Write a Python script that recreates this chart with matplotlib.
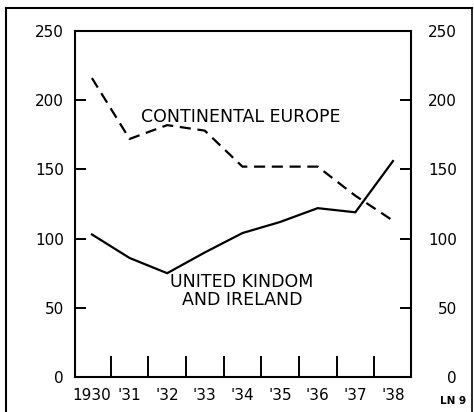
import matplotlib.pyplot as plt
from matplotlib.lines import Line2D

# values
years = [0, 1, 2, 3, 4, 5, 6, 7, 8]
year_labels = ["1930", "'31", "'32", "'33", "'34", "'35", "'36", "'37", "'38"]
continental_europe = [216, 172, 182, 178, 152, 152, 152, 131, 113]
uk_ireland = [103, 86, 75, 90, 104, 112, 122, 119, 156]
y_ticks = [0, 50, 100, 150, 200, 250]

plt.rcParams['font.family'] = ['DejaVu Sans']

fig = plt.figure(figsize=(4.74, 4.12), dpi=100)
ax = fig.add_axes([75/474, 35/412, 336/474, 346/412])

ax.plot(years, uk_ireland, color="black", lw=1.6, solid_joinstyle="miter")
ax.plot(years, continental_europe, color="black", lw=1.6, dashes=(5, 3))

ax.set_xlim(-0.45, 8.48)
ax.set_ylim(0, 250)

for s in ax.spines.values():
    s.set_linewidth(1.5)

# year labels under the years, tick marks between them
ax.set_xticks(years)
ax.set_xticklabels(year_labels, fontsize=11)
ax.set_xticks([y + 0.5 for y in years[:-1]], minor=True)
ax.tick_params(axis="x", which="major", length=0, pad=8)
ax.tick_params(axis="x", which="minor", direction="in", length=15, width=1.4)

ax.set_yticks(y_ticks)
ax.set_yticklabels([str(v) for v in y_ticks], fontsize=11)
ax.tick_params(axis="y", direction="in", length=8, width=1.4,
               left=True, right=True, labelleft=True, labelright=True, pad=8)
# right-hand numbers are right aligned
for tick in ax.yaxis.get_major_ticks():
    tick.label2.set_horizontalalignment("right")
    tick.label2.set_x(1 + 35/336)

ax.text(3.96, 188, "CONTINENTAL EUROPE", ha="center", va="center", fontsize=12.5)
ax.text(3.99, 68.5, "UNITED KINDOM", ha="center", va="center", fontsize=12.5)
ax.text(3.99, 55.5, "AND IRELAND", ha="center", va="center", fontsize=12.5)

fig.text(453/474, 1 - 401/412, "LN 9", ha="center", va="center",
         fontsize=7.5, fontweight="bold")

# outer frame
fig.add_artist(Line2D([6/474, 472/474], [1 - 8/412, 1 - 8/412], color="black", lw=1.5))
fig.add_artist(Line2D([6/474, 6/474], [1 - 8/412, 0], color="black", lw=1.5))
fig.add_artist(Line2D([472/474, 472/474], [1 - 8/412, 0], color="black", lw=1.2))

fig.savefig("out.png", dpi=100)
